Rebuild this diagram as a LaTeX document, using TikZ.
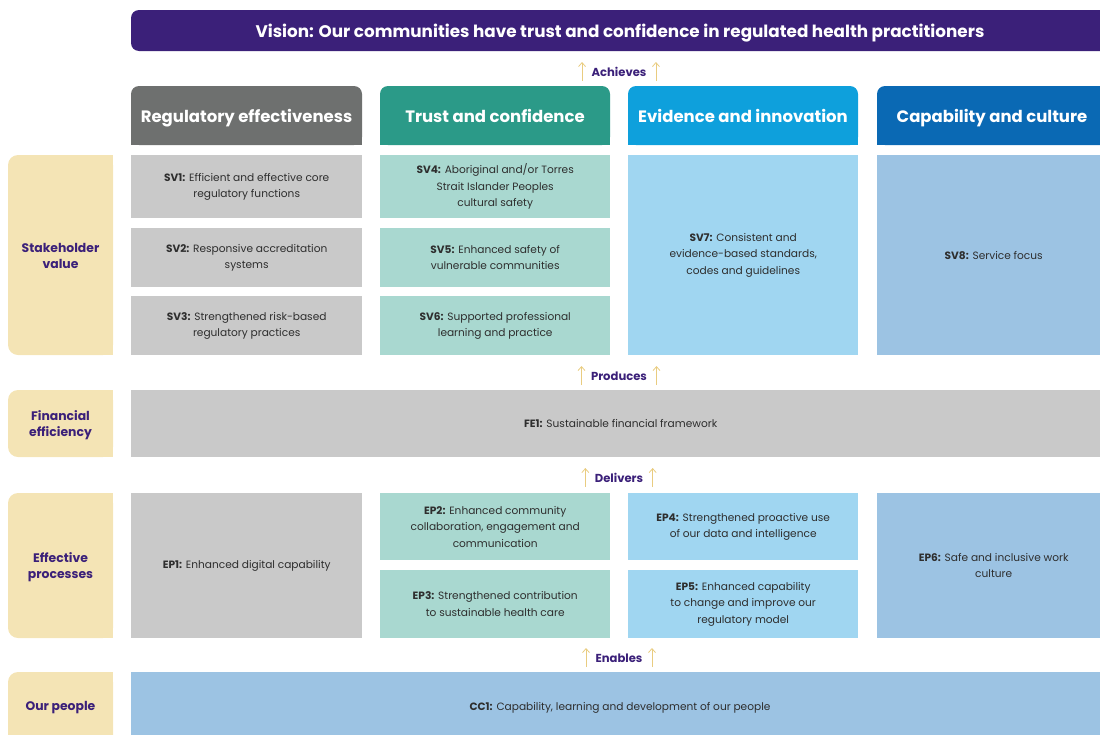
\documentclass[tikz,border=0pt]{standalone}
\usepackage{fontspec}
\setmainfont{Poppins}
\usetikzlibrary{arrows.meta}
\definecolor{vision}{HTML}{3B2079}
\definecolor{hdgray}{HTML}{6E706F}
\definecolor{hdteal}{HTML}{2B9A88}
\definecolor{hdsky}{HTML}{0EA0DC}
\definecolor{hdblue}{HTML}{0A69B4}
\definecolor{cgray}{HTML}{C9C9C9}
\definecolor{cteal}{HTML}{A9D8D0}
\definecolor{csky}{HTML}{A0D6F1}
\definecolor{cblue}{HTML}{9CC3E3}
\definecolor{cside}{HTML}{F4E4B5}
\definecolor{gold}{HTML}{E9CC80}
\definecolor{ink}{HTML}{2E2E2E}
\def\topbox[#1](#2,#3)(#4,#5){\fill[#1, rounded corners=8] (#2,#3) rectangle (#4,#5); \fill[#1] (#2,#3+20) rectangle (#4,#5);}
\def\sidebox(#1,#2)(#3,#4){\fill[cside, rounded corners=10] (#1,#2) rectangle (#3,#4); \fill[cside] (#1+40,#2) rectangle (#3,#4);}

\begin{document}
\begin{tikzpicture}[x=1pt, y=-1pt,
    cell/.style={anchor=north west, inner sep=0pt, align=center, text=ink, font=\fontsize{10.6}{16.5}\selectfont},
    head/.style={text=white, text height=12, text depth=4, font=\fontsize{16.5}{18}\selectfont\bfseries},
    side/.style={text=vision, align=center, font=\fontsize{12.4}{16.5}\selectfont\bfseries},
    verb/.style={text=vision, font=\fontsize{11.6}{13}\selectfont\bfseries},
    rise/.style={gold, line width=0.8pt, -{Straight Barb[length=4pt, width=7pt]}}]
			%%%%% START %%%%%
			\useasboundingbox (0,0) rectangle (1100,734);
			\clip (0,0) rectangle (1100,734);
			
			% vision
			\fill[vision, rounded corners=8] (131,10) rectangle (1110,51);
			\node[head, font=\fontsize{16.8}{18}\selectfont\bfseries] (vis) at (620,33) {Vision: Our communities have trust and confidence in regulated health practitioners};
			
			\node[verb] (achv) at (619,72) {Achieves};
			\draw[rise] ([shift={(-6,9)}]achv.west) -- ([shift={(-6,-10)}]achv.west);
			\draw[rise] ([shift={(6,9)}]achv.east) -- ([shift={(6,-10)}]achv.east);
			
			% headers
			\topbox[hdgray](131,86)(362,145)
			\node[head] (reg) at (246.5,118.5) {Regulatory effectiveness};
			\topbox[hdteal](380,86)(610,145)
			\node[head] (trust) at (495,118.5) {Trust and confidence};
			\topbox[hdsky](628,86)(858,145)
			\node[head] (evid) at (743,118.5) {Evidence and innovation};
			\topbox[hdblue](877,86)(1110,145)
			\node[head] (capab) at (992,118.5) {Capability and culture};
			
			% stakeholder value
			\sidebox(8,155)(113,355)
			\node[side] (stake) at (60.5,256) {Stakeholder\\value};
			\node[cell, fill=cgray, minimum width=231, minimum height=63] (sv1) at (131,155) {\textbf{SV1:} Efficient and effective core\\regulatory functions};
			\node[cell, fill=cgray, minimum width=231, minimum height=59] (sv2) at (131,228) {\textbf{SV2:} Responsive accreditation\\systems};
			\node[cell, fill=cgray, minimum width=231, minimum height=59] (sv3) at (131,296) {\textbf{SV3:} Strengthened risk-based\\regulatory practices};
			\node[cell, fill=cteal, minimum width=230, minimum height=63] (sv4) at (380,155) {\textbf{SV4:} Aboriginal and/or Torres\\Strait Islander Peoples\\cultural safety};
			\node[cell, fill=cteal, minimum width=230, minimum height=59] (sv5) at (380,228) {\textbf{SV5:} Enhanced safety of\\vulnerable communities};
			\node[cell, fill=cteal, minimum width=230, minimum height=59] (sv6) at (380,296) {\textbf{SV6:} Supported professional\\learning and practice};
			\node[cell, fill=csky, minimum width=230, minimum height=200] (sv7) at (628,155) {\textbf{SV7:} Consistent and\\evidence-based standards,\\codes and guidelines};
			\node[cell, fill=cblue, minimum width=233, minimum height=200] (sv8) at (877,155) {\textbf{SV8:} Service focus};
			
			\node[verb] (prod) at (619,376) {Produces};
			\draw[rise] ([shift={(-6,9)}]prod.west) -- ([shift={(-6,-10)}]prod.west);
			\draw[rise] ([shift={(6,9)}]prod.east) -- ([shift={(6,-10)}]prod.east);
			
			% financial efficiency
			\sidebox(8,390)(113,457)
			\node[side] (fin) at (60.5,425) {Financial\\efficiency};
			\node[cell, fill=cgray, minimum width=979, minimum height=67] (fe1) at (131,390) {\textbf{FE1:} Sustainable financial framework};
			
			\node[verb] (deliv) at (619,478) {Delivers};
			\draw[rise] ([shift={(-6,9)}]deliv.west) -- ([shift={(-6,-10)}]deliv.west);
			\draw[rise] ([shift={(6,9)}]deliv.east) -- ([shift={(6,-10)}]deliv.east);
			
			% effective processes
			\sidebox(8,493)(113,638)
			\node[side] (proc) at (60.5,567) {Effective\\processes};
			\node[cell, fill=cgray, minimum width=231, minimum height=145] (ep1) at (131,493) {\textbf{EP1:} Enhanced digital capability};
			\node[cell, fill=cteal, minimum width=230, minimum height=67] (ep2) at (380,493) {\textbf{EP2:} Enhanced community\\collaboration, engagement and\\communication};
			\node[cell, fill=cteal, minimum width=230, minimum height=68] (ep3) at (380,570) {\textbf{EP3:} Strengthened contribution\\to sustainable health care};
			\node[cell, fill=csky, minimum width=230, minimum height=67] (ep4) at (628,493) {\textbf{EP4:} Strengthened proactive use\\of our data and intelligence};
			\node[cell, fill=csky, minimum width=230, minimum height=68] (ep5) at (628,570) {\textbf{EP5:} Enhanced capability\\to change and improve our\\regulatory model};
			\node[cell, fill=cblue, minimum width=233, minimum height=145] (ep6) at (877,493) {\textbf{EP6:} Safe and inclusive work\\culture};
			
			\node[verb] (enab) at (619,658) {Enables};
			\draw[rise] ([shift={(-6,9)}]enab.west) -- ([shift={(-6,-10)}]enab.west);
			\draw[rise] ([shift={(6,9)}]enab.east) -- ([shift={(6,-10)}]enab.east);
			
			% our people
			\fill[cside, rounded corners=10] (8,672) rectangle (113,760);
			\fill[cside] (48,672) rectangle (113,760);
			\node[side] (people) at (60.5,708) {Our people};
			\node[cell, fill=cblue, minimum width=979, minimum height=70] (cc1) at (131,672) {};
			\node[cell, anchor=center] (cc1t) at (620,708) {\textbf{CC1:} Capability, learning and development of our people};
			%%%%% END %%%%%
\end{tikzpicture}
\end{document}
